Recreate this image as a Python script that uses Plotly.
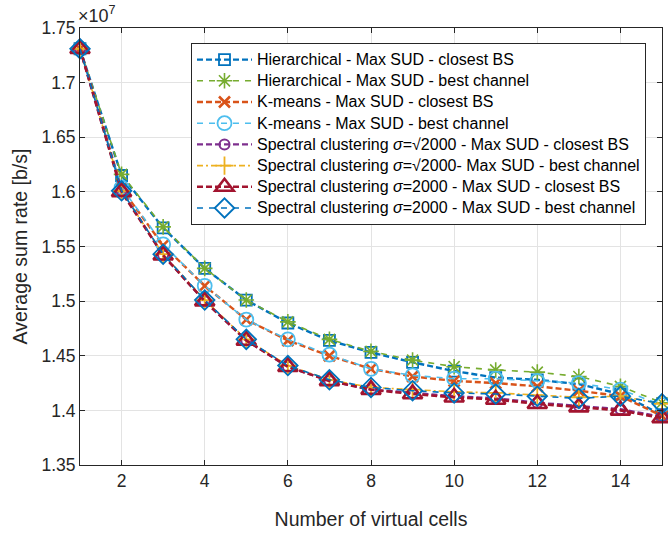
import plotly.graph_objects as go

# Number of virtual cells
cells = list(range(1, 16))

# Average sum rate, in units of 1e7 b/s
hier_closest = [1.731, 1.615, 1.567, 1.530, 1.501, 1.480, 1.464, 1.453, 1.444, 1.436, 1.430, 1.428, 1.424, 1.415, 1.396]
hier_best = [1.731, 1.616, 1.568, 1.530, 1.501, 1.481, 1.465, 1.454, 1.446, 1.440, 1.437, 1.435, 1.431, 1.422, 1.407]
kmeans_closest = [1.731, 1.603, 1.551, 1.514, 1.483, 1.464, 1.450, 1.438, 1.431, 1.427, 1.425, 1.422, 1.418, 1.413, 1.395]
kmeans_best = [1.731, 1.604, 1.552, 1.514, 1.483, 1.465, 1.451, 1.438, 1.432, 1.429, 1.429, 1.427, 1.425, 1.419, 1.405]
spec_sqrt_closest = [1.731, 1.601, 1.542, 1.500, 1.464, 1.440, 1.427, 1.419, 1.416, 1.413, 1.411, 1.407, 1.404, 1.401, 1.394]
spec_sqrt_best = [1.731, 1.601, 1.543, 1.501, 1.465, 1.441, 1.428, 1.421, 1.419, 1.417, 1.416, 1.414, 1.412, 1.413, 1.406]
spec_2000_closest = [1.731, 1.600, 1.542, 1.500, 1.464, 1.440, 1.427, 1.419, 1.415, 1.412, 1.410, 1.406, 1.403, 1.400, 1.393]
spec_2000_best = [1.731, 1.601, 1.543, 1.501, 1.465, 1.441, 1.428, 1.421, 1.418, 1.416, 1.415, 1.413, 1.411, 1.413, 1.406]

names = [
    "Hierarchical - Max SUD - closest BS",
    "Hierarchical - Max SUD - best channel",
    "K-means - Max SUD - closest BS",
    "K-means - Max SUD - best channel",
    "Spectral clustering <i>σ</i>=√2000 - Max SUD - closest BS",
    "Spectral clustering <i>σ</i>=√2000- Max SUD - best channel",
    "Spectral clustering <i>σ</i>=2000 - Max SUD - closest BS",
    "Spectral clustering <i>σ</i>=2000 - Max SUD - best channel",
]
series = [hier_closest, hier_best, kmeans_closest, kmeans_best,
          spec_sqrt_closest, spec_sqrt_best, spec_2000_closest, spec_2000_best]

styles = [
    dict(color="#0072BD", width=2.4, dash="6px,3px", symbol="square-open", size=11, mlw=1.8),
    dict(color="#77AC30", width=1.6, dash="6px,6px", symbol="asterisk-open", size=13, mlw=1.6),
    dict(color="#D95319", width=2.4, dash="6px,3px", symbol="x-thin-open", size=11, mlw=2.6),
    dict(color="#4DBEEE", width=1.6, dash="6px,6px", symbol="circle-open", size=14, mlw=1.8),
    dict(color="#7E2F8E", width=2.4, dash="6px,3px", symbol="circle-open", size=10, mlw=2),
    dict(color="#EDB120", width=1.6, dash="6px,3px,2px,3px", symbol="cross-thin-open", size=13, mlw=1.8),
    dict(color="#A2142F", width=2.6, dash="6px,3px", symbol="triangle-up-open", size=17, mlw=2.6),
    dict(color="#0072BD", width=1.6, dash="6px,6px", symbol="diamond-open", size=15, mlw=1.8),
]

fig = go.Figure()
for name, vals, st in zip(names, series, styles):
    fig.add_trace(go.Scatter(
        x=cells, y=vals, name='<span style="font-size:16px">' + name + '</span>',
        mode="lines+markers", cliponaxis=False,
        line=dict(color=st["color"], width=st["width"], dash=st["dash"]),
        marker=dict(symbol=st["symbol"], size=st["size"], color=st["color"],
                    line=dict(color=st["color"], width=st["mlw"])),
    ))

y_ticks = [1.35, 1.4, 1.45, 1.5, 1.55, 1.6, 1.65, 1.7, 1.75]
y_labels = ["1.35", "1.4", "1.45", "1.5", "1.55", "1.6", "1.65", "1.7", "1.75"]
x_ticks = [2, 4, 6, 8, 10, 12, 14]

axis_color = "#262626"
grid_color = "#e3e3e3"
font_family = "Liberation Sans, Arial, sans-serif"

fig.update_layout(
    width=668, height=543,
    margin=dict(l=80, r=6, t=28, b=78),
    paper_bgcolor="white", plot_bgcolor="white",
    font=dict(family=font_family, size=17, color=axis_color),
    showlegend=True,
    legend=dict(
        x=0.9725, y=0.9657, xanchor="right", yanchor="top",
        bgcolor="white", bordercolor=axis_color, borderwidth=1,
        font=dict(size=14, color="#000000"),
        itemwidth=55, tracegroupgap=0,
    ),
    xaxis=dict(
        range=[1, 15], tickvals=x_ticks, ticks="inside", ticklen=5, tickcolor=axis_color,
        showline=True, linecolor=axis_color, linewidth=1, mirror="ticks",
        showgrid=True, gridcolor=grid_color, gridwidth=1, zeroline=False,
        title=dict(text="Number of virtual cells", font=dict(size=19.5), standoff=22),
        tickfont=dict(size=17.5),
    ),
    yaxis=dict(
        range=[1.35, 1.75], tickvals=y_ticks, ticktext=y_labels, ticks="inside", ticklen=5,
        tickcolor=axis_color,
        showline=True, linecolor=axis_color, linewidth=1, mirror="ticks",
        showgrid=True, gridcolor=grid_color, gridwidth=1, zeroline=False,
        title=dict(text="Average sum rate [b/s]", font=dict(size=19.5), standoff=8),
        tickfont=dict(size=17.5),
    ),
)
fig.add_annotation(
    xref="paper", yref="paper", x=0, y=1, xanchor="left", yanchor="bottom",
    text="×10<sup>7</sup>", showarrow=False, font=dict(size=18, color=axis_color),
    xshift=-4, yshift=0,
)

fig.write_html("out.html")
